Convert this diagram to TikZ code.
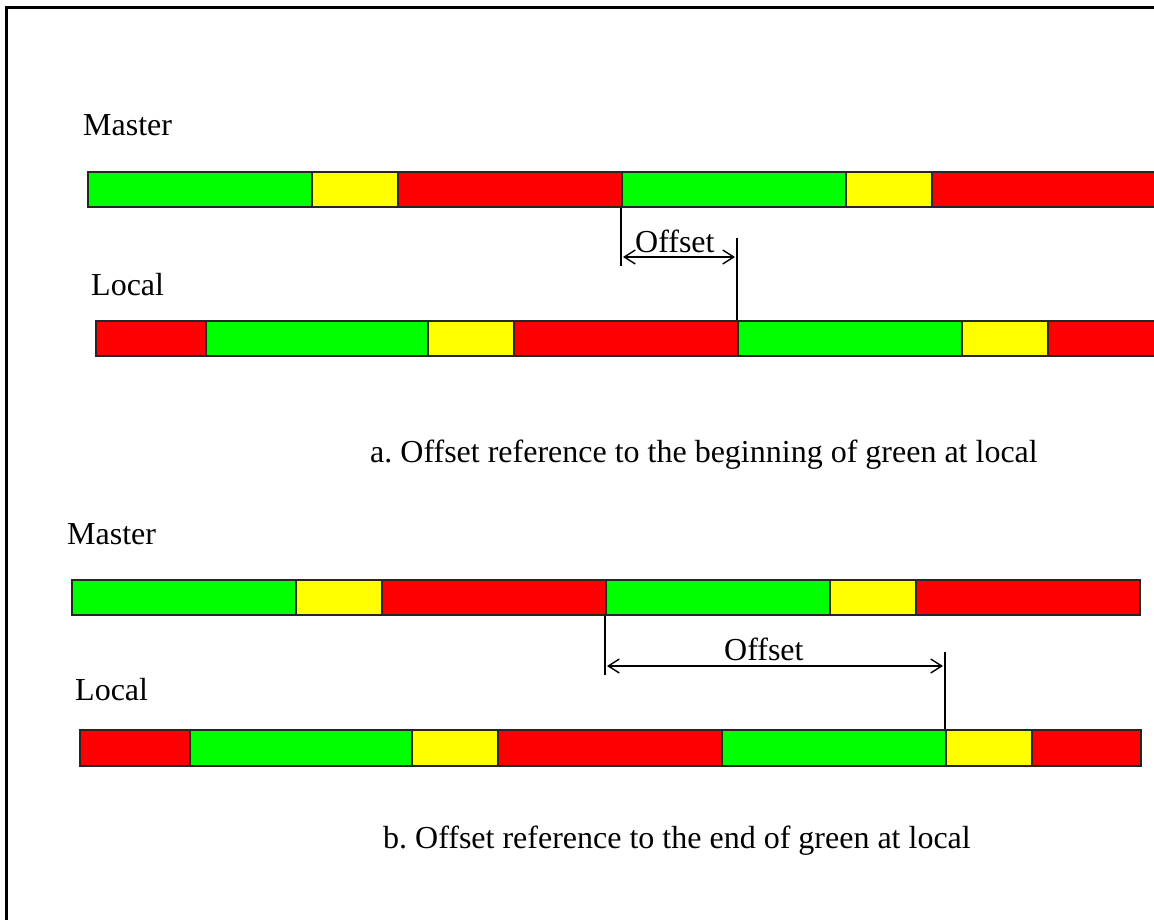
\documentclass[tikz,border=0pt]{standalone}
\usepackage{fontspec}
\setmainfont{Liberation Serif}
\usetikzlibrary{arrows.meta}
\frenchspacing
\definecolor{sgreen}{RGB}{0,255,0}
\definecolor{sred}{RGB}{255,0,0}
\definecolor{syellow}{RGB}{255,255,0}
\tikzset{
  seg/.style={draw=black!85, line width=1.6pt, rectangle, inner sep=0pt, anchor=north west, minimum height=35pt},
  lbl/.style={font=\fontsize{32}{37}\selectfont, inner sep=0pt, anchor=base west},
  tick/.style={line width=1.4pt},
  offarrow/.style={line width=1.4pt, {Straight Barb[length=11pt,width=14pt]}-{Straight Barb[length=11pt,width=14pt]}, shorten <=2pt, shorten >=2pt}
}
\begin{document}
\begin{tikzpicture}[x=1pt,y=-1pt]
\useasboundingbox (0,0) rectangle (1154,920);
\fill[white] (0,0) rectangle (1154,920);
\draw[line width=3pt] (6,920) -- (6,8) -- (1154,8);

% ---------- part a ----------
\node[lbl] (mastA) at (83,136) {Master};
\node[seg, fill=sgreen,  minimum width=224pt] (ma1) at (87,171) {};
\node[seg, fill=syellow, minimum width=86pt]  (ma2) at (311,171) {};
\node[seg, fill=sred,    minimum width=224pt] (ma3) at (397,171) {};
\node[seg, fill=sgreen,  minimum width=224pt] (ma4) at (621,171) {};
\node[seg, fill=syellow, minimum width=86pt]  (ma5) at (845,171) {};
\node[seg, fill=sred,    minimum width=223pt] (ma6) at (931,171) {};

\node[lbl] (locA) at (91,295) {Local};
\node[seg, fill=sred,    minimum width=110pt] (la1) at (95,320) {};
\node[seg, fill=sgreen,  minimum width=222pt] (la2) at (205,320) {};
\node[seg, fill=syellow, minimum width=86pt]  (la3) at (427,320) {};
\node[seg, fill=sred,    minimum width=224pt] (la4) at (513,320) {};
\node[seg, fill=sgreen,  minimum width=224pt] (la5) at (737,320) {};
\node[seg, fill=syellow, minimum width=86pt]  (la6) at (961,320) {};
\node[seg, fill=sred,    minimum width=107pt] (la7) at (1047,320) {};

\coordinate (ta1) at (ma4.south west |- 0,266);
\coordinate (ta2) at (la5.north west |- 0,238);
\draw[tick] (ma4.south west) -- (ta1);
\draw[tick] (la5.north west) -- (ta2);
\coordinate (aa1) at (ma4.south west |- 0,257);
\coordinate (aa2) at (la5.north west |- 0,257);
\draw[offarrow] (aa1) -- (aa2);
\node[lbl] (offA) at (635,253) {Offset};

\node[lbl] (capA) at (370,462) {a. Offset reference to the beginning of green at local};

% ---------- part b ----------
\node[lbl] (mastB) at (67,544) {Master};
\node[seg, fill=sgreen,  minimum width=224pt] (mb1) at (71,579) {};
\node[seg, fill=syellow, minimum width=86pt]  (mb2) at (295,579) {};
\node[seg, fill=sred,    minimum width=224pt] (mb3) at (381,579) {};
\node[seg, fill=sgreen,  minimum width=224pt] (mb4) at (605,579) {};
\node[seg, fill=syellow, minimum width=86pt]  (mb5) at (829,579) {};
\node[seg, fill=sred,    minimum width=224pt] (mb6) at (915,579) {};

\node[lbl] (locB) at (75,700) {Local};
\node[seg, fill=sred,    minimum width=110pt, minimum height=36pt] (lb1) at (79,729) {};
\node[seg, fill=sgreen,  minimum width=222pt, minimum height=36pt] (lb2) at (189,729) {};
\node[seg, fill=syellow, minimum width=86pt,  minimum height=36pt] (lb3) at (411,729) {};
\node[seg, fill=sred,    minimum width=224pt, minimum height=36pt] (lb4) at (497,729) {};
\node[seg, fill=sgreen,  minimum width=224pt, minimum height=36pt] (lb5) at (721,729) {};
\node[seg, fill=syellow, minimum width=86pt,  minimum height=36pt] (lb6) at (945,729) {};
\node[seg, fill=sred,    minimum width=109pt, minimum height=36pt] (lb7) at (1031,729) {};

\coordinate (tb1) at (mb4.south west |- 0,675);
\coordinate (tb2) at (lb6.north west |- 0,652);
\draw[tick] (mb4.south west) -- (tb1);
\draw[tick] (lb6.north west) -- (tb2);
\coordinate (ab1) at (mb4.south west |- 0,666);
\coordinate (ab2) at (lb6.north west |- 0,666);
\draw[offarrow] (ab1) -- (ab2);
\node[lbl] (offB) at (724,660) {Offset};

\node[lbl] (capB) at (383,848) {b. Offset reference to the end of green at local};
\end{tikzpicture}
\end{document}
